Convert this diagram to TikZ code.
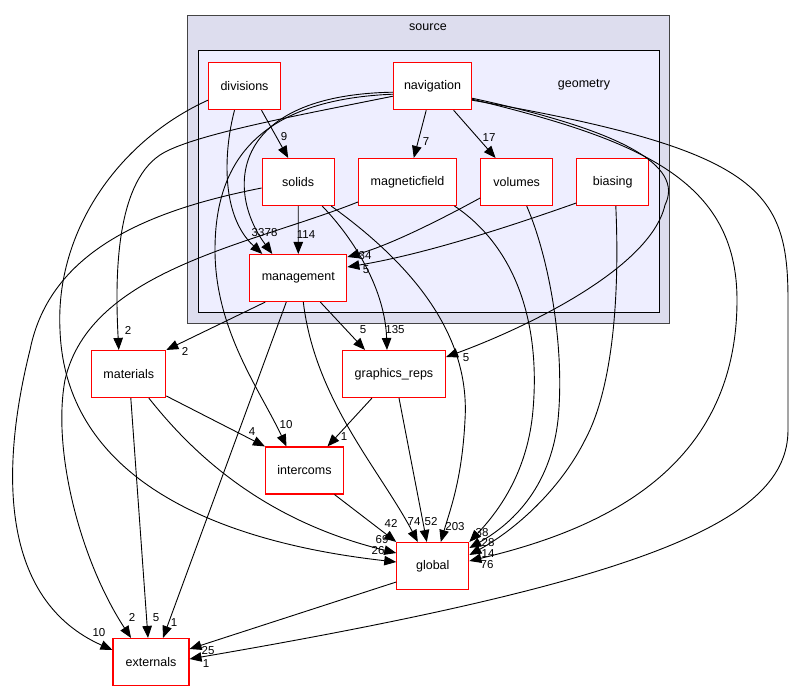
\documentclass[tikz,border=0pt]{standalone}
\usepackage{fontspec}
\setmainfont{Liberation Sans}
\usetikzlibrary{arrows.meta,calc}
\definecolor{srcfill}{HTML}{DDDDEE}
\definecolor{geofill}{HTML}{EEEEFF}
\definecolor{srcline}{HTML}{444444}
\begin{document}
\begin{tikzpicture}[x=1pt,y=-1pt,
  dirbox/.style={draw=red, line width=1.1pt, fill=white, minimum height=47pt, inner sep=0pt, font=\fontsize{12.5}{14}\selectfont},
  clusterbox/.style={inner sep=0pt},
  ctitle/.style={inner sep=0pt, font=\fontsize{12.5}{14}\selectfont},
  dep/.style={draw=black, line width=0.9pt, -{Triangle[length=12pt,width=9.5pt]}},
  elbl/.style={inner sep=0pt, font=\fontsize{11.5}{13}\selectfont}]
\useasboundingbox (0,0) rectangle (793,692);
\fill[white] (0,0) rectangle (793,692);
% clusters
\node[clusterbox, draw=srcline, line width=1.6pt, fill=srcfill, minimum width=482pt, minimum height=308pt] (source) at (428.5,169.5) {};
\node[ctitle] (sourcet) at (428,27) {source};
\node[clusterbox, draw=black, line width=1pt, fill=geofill, minimum width=461pt, minimum height=262pt] (geometry) at (428.5,182) {};
\node[ctitle] (geometryt) at (584,85) {geometry};
% nodes
\node[dirbox, minimum width=72pt] (divisions) at (244.5,86.2) {divisions};
\node[dirbox, minimum width=78pt] (navigation) at (432.5,86.2) {navigation};
\node[dirbox, minimum width=72pt] (solids) at (298.2,182) {solids};
\node[dirbox, minimum width=98pt] (magneticfield) at (407.5,182) {magneticfield};
\node[dirbox, minimum width=72pt] (volumes) at (516.7,182) {volumes};
\node[dirbox, minimum width=72pt] (biasing) at (612.8,182) {biasing};
\node[dirbox, minimum width=97pt] (management) at (298.3,278) {management};
\node[dirbox, minimum width=74pt] (materials) at (128.8,374) {materials};
\node[dirbox, minimum width=103pt] (graphics) at (394,374) {graphics\_reps};
\node[dirbox, minimum width=78pt] (intercoms) at (304.5,470.5) {intercoms};
\node[dirbox, minimum width=72pt] (global) at (432.8,566) {global};
\node[dirbox, minimum width=76pt] (externals) at (151,662) {externals};
% edges
\draw[dep] ([xshift=17pt]divisions.south) -- ([xshift=-10pt]solids.north);
\draw[dep] ([xshift=-10pt]divisions.south) .. controls (224,150) and (220,215) .. ([xshift=-36pt]management.north);
\draw[dep] ([yshift=-6pt]navigation.west) .. controls (230,95) and (225,190) .. ([xshift=-26pt]management.north);
\draw[dep] ([yshift=-8pt]navigation.west) .. controls (250,100) and (215,170) .. (215,250) .. controls (215,330) and (260,390) .. ([xshift=-18pt]intercoms.north);
\draw[dep] ([yshift=-10pt]navigation.west) .. controls (300,115) and (190,135) .. (160,155) .. controls (115,185) and (115,280) .. ([xshift=-10pt]materials.north);
\draw[dep] (navigation) -- (magneticfield);
\draw[dep] (navigation) -- (volumes);
\draw[dep] ([yshift=-12pt]navigation.east) .. controls (620,130) and (685,165) .. (665,205) .. controls (650,270) and (520,330) .. ([yshift=17pt]graphics.east);
\draw[dep] ([yshift=-13pt]navigation.east) .. controls (640,140) and (737,180) .. (737,300) .. controls (737,470) and (600,530) .. ([yshift=5pt]global.east);
\draw[dep] ([yshift=-14pt]navigation.east) .. controls (760,150) and (788,190) .. (788,300) -- (788,430) .. controls (788,520) and (650,580) .. ([yshift=3pt]externals.east);
\draw[dep] (solids) -- (management);
\draw[dep] ([xshift=24pt]solids.south) .. controls (355,240) and (385,290) .. ([xshift=-7pt]graphics.north);
\draw[dep] ([xshift=33pt]solids.south) .. controls (420,270) and (470,340) .. (465,420) .. controls (462,480) and (450,510) .. ([xshift=8pt]global.north);
\draw[dep] ([yshift=-6pt]solids.west) .. controls (150,210) and (50,250) .. (30,350) .. controls (0,470) and (0,600) .. ([yshift=12pt]externals.west);
\draw[dep] ([yshift=-20pt]magneticfield.west) .. controls (250,245) and (90,270) .. (65,380) .. controls (52,450) and (80,560) .. ([xshift=-20pt]externals.north);
\draw[dep] ([xshift=47pt]magneticfield.south) .. controls (520,250) and (540,330) .. (533,410) .. controls (528,470) and (500,510) .. (global.north east);
\draw[dep] ([xshift=10pt]volumes.south) .. controls (550,260) and (565,350) .. (558,420) .. controls (550,490) and (510,525) .. ([yshift=18pt]global.east);
\draw[dep] ([xshift=3pt]biasing.south) .. controls (620,300) and (612,390) .. (585,440) .. controls (560,490) and (515,530) .. ([yshift=11pt]global.east);
\draw[dep] ([yshift=-16pt]volumes.west) .. controls (440,220) and (390,245) .. ([yshift=21pt]management.east);
\draw[dep] ([yshift=-21pt]biasing.west) .. controls (500,230) and (420,255) .. ([yshift=11pt]management.east);
\draw[dep] ([xshift=-33pt]management.south) -- (materials.north east);
\draw[dep] ([xshift=22pt]management.south) -- ([xshift=-29pt]graphics.north);
\draw[dep] ([xshift=-12pt]management.south) -- ([xshift=12pt]externals.north);
\draw[dep] ([xshift=5pt]management.south) .. controls (315,400) and (380,470) .. ([xshift=-15pt]global.north);
\draw[dep] ([yshift=-22pt]materials.east) -- (intercoms.north west);
\draw[dep] ([xshift=2pt]materials.south) -- ([xshift=-3pt]externals.north);
\draw[dep] ([xshift=20pt]materials.south) .. controls (190,450) and (260,520) .. ([yshift=13pt]global.west);
\draw[dep] ([yshift=-14pt]divisions.west) .. controls (120,140) and (55,230) .. (60,330) .. controls (65,470) and (200,540) .. ([yshift=4pt]global.west);
\draw[dep] ([xshift=-22pt]graphics.south) -- ([xshift=23pt]intercoms.north);
\draw[dep] ([xshift=5pt]graphics.south) -- ([xshift=-6pt]global.north);
\draw[dep] ([xshift=30pt]intercoms.south) -- (global.north west);
\draw[dep] ([yshift=-16pt]global.west) -- ([yshift=13pt]externals.east);
% edge labels
\node[elbl] (l9) at (284,137) {9};
\node[elbl] (l33) at (258,233) {33};
\node[elbl] (l78) at (271,233) {78};
\node[elbl] (l10i) at (286,425) {10};
\node[elbl] (l2m) at (128,330) {2};
\node[elbl] (l7) at (426,142) {7};
\node[elbl] (l17) at (489,138) {17};
\node[elbl] (l5g) at (466,358) {5};
\node[elbl] (l76) at (487,565) {76};
\node[elbl] (l1e) at (206,664) {1};
\node[elbl] (l114) at (306,235) {114};
\node[elbl] (l135) at (395,330) {135};
\node[elbl] (l203) at (455,527) {203};
\node[elbl] (l10e) at (99,633) {10};
\node[elbl] (l2e) at (132,617) {2};
\node[elbl] (l38) at (482,533) {38};
\node[elbl] (l28) at (488,543) {28};
\node[elbl] (l14) at (488,554) {14};
\node[elbl] (l34) at (365,256) {34};
\node[elbl] (l5m) at (366,270) {5};
\node[elbl] (l2mr) at (185,351) {2};
\node[elbl] (l5gt) at (363,330) {5};
\node[elbl] (l1et) at (174,623) {1};
\node[elbl] (l74) at (414,522) {74};
\node[elbl] (l4) at (252,432) {4};
\node[elbl] (l5et) at (156,618) {5};
\node[elbl] (l69) at (382,540) {69};
\node[elbl] (l26) at (378,551) {26};
\node[elbl] (l1i) at (344,437) {1};
\node[elbl] (l52) at (431,522) {52};
\node[elbl] (l42) at (391,523) {42};
\node[elbl] (l25) at (208,651) {25};
\end{tikzpicture}
\end{document}
